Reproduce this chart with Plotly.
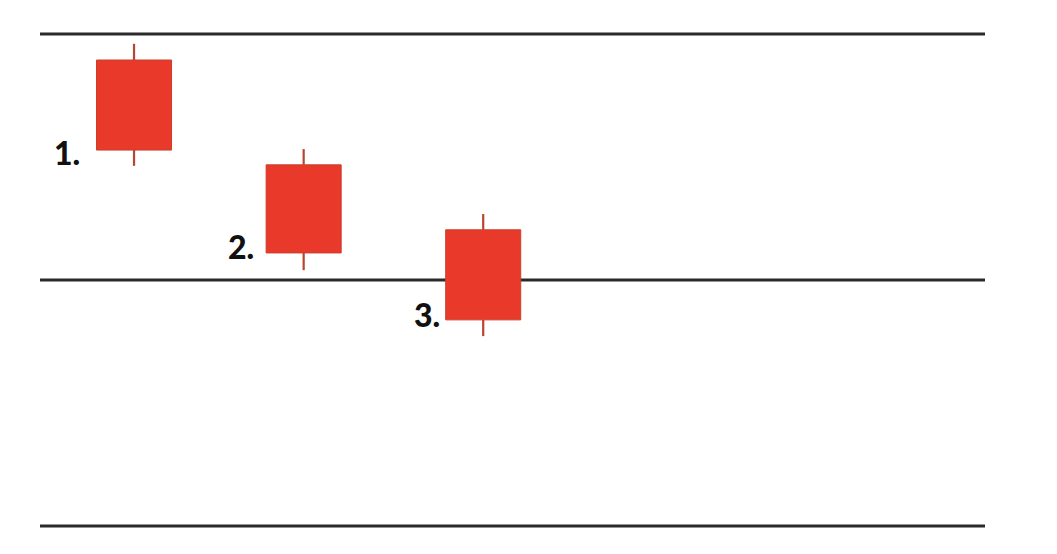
import plotly.graph_objects as go

# Data
labels = ["1.", "2.", "3."]
x_pos = [0.995, 2.79, 4.69]
opens = [94.7, 73.4, 60.2]
closes = [76.4, 55.5, 41.9]
highs = [98.0, 76.6, 63.4]
lows = [73.2, 52.0, 38.6]
levels = [0, 50, 100]
label_x = [0.44, 2.29, 4.25]
label_y = [76.0, 56.8, 43.0]

body_color = "#E8392A"
edge_color = "#C8402C"
wick_color = "#B8452F"

fig = go.Figure()

# wicks (upper and lower segments, outside the body)
wx, wy = [], []
for x, o, c, h, l in zip(x_pos, opens, closes, highs, lows):
    top, bot = max(o, c), min(o, c)
    wx += [x, x, None, x, x, None]
    wy += [top, h, None, l, bot, None]
fig.add_trace(go.Scatter(x=wx, y=wy, mode="lines",
                         line=dict(color=wick_color, width=2.2),
                         hoverinfo="skip", showlegend=False))

# bodies
fig.add_trace(go.Bar(x=x_pos, base=closes,
                     y=[o - c for o, c in zip(opens, closes)],
                     width=0.794,
                     marker=dict(color=body_color, line=dict(color=edge_color, width=1)),
                     showlegend=False))

# horizontal levels
for lv in levels:
    fig.add_shape(type="line", xref="paper", x0=0, x1=1, yref="y", y0=lv, y1=lv,
                  line=dict(color="#2a2a2a", width=3), layer="below")

for t, x, y in zip(labels, label_x, label_y):
    fig.add_annotation(x=x, y=y, text=t, showarrow=False, xanchor="right", yanchor="middle",
                       font=dict(family="Lato", size=32, color="#111111", weight=900))

fig.update_layout(
    width=1041, height=538,
    margin=dict(l=32, r=64, t=21, b=15),
    paper_bgcolor="white", plot_bgcolor="white",
    xaxis=dict(range=[0, 10], visible=False, fixedrange=True),
    yaxis=dict(range=[-1, 101], visible=False, fixedrange=True),
    barmode="overlay",
)

fig.write_html("out.html")
